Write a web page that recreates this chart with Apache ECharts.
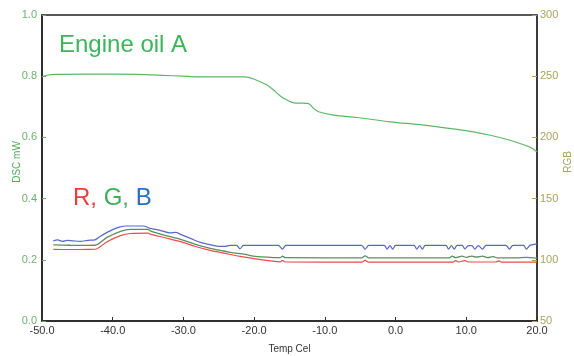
<!DOCTYPE html>
<html><head><meta charset="utf-8">
<script src="https://cdn.jsdelivr.net/npm/echarts@6/dist/echarts.min.js"></script>
<style>html,body{margin:0;padding:0;background:#fff}#c{width:574px;height:356px}</style>
</head><body><div id="c"></div>
<script>
// Temperature ticks (x axis)
const xTicks = [-50, -40, -30, -20, -10, 0, 10, 20];
// DSC curve: [temp (°C), DSC (mW)]
const dscOil = [
  [-50,0.798],[-49.3,0.803],[-48.1,0.806],[-44,0.807],[-40,0.807],[-36.6,0.806],
  [-33,0.803],[-30,0.800],[-28.1,0.798],[-25,0.798],[-21.25,0.798],[-20.07,0.791],
  [-18.18,0.771],[-17.25,0.755],[-16.3,0.735],[-15.35,0.722],[-14.4,0.713],
  [-12.5,0.711],[-12.15,0.708],[-11.6,0.695],[-10.9,0.684],[-8.77,0.673],
  [-5.5,0.665],[-0.74,0.651],[3.97,0.640],[8.7,0.626],[11.0,0.618],[13.4,0.607],
  [15.8,0.593],[17.6,0.580],[19.1,0.567],[20,0.553]
];
// RGB curves: [temp (°C), RGB value]
const blueB = [
  [-48.4,115.5],[-47.8,116.3],[-47.1,115.1],[-46.4,115.9],[-45.6,115.5],[-44.6,115.1],
  [-43.5,115.9],[-42.5,116.3],[-41.8,119.1],[-40.8,122.4],[-39.6,125.7],[-38.9,126.9],
  [-38.2,127.6],[-35.7,127.6],[-34.7,125.7],[-33.3,124.1],[-31.9,122.0],[-31.1,122.4],
  [-30.4,120.8],[-29.0,117.5],[-27.6,114.2],[-25.8,111.8],[-25.0,111.0],[-24.1,111.0],
  [-23.4,111.8],[-22.5,111.8],[-22.0,109.0],[-21.5,111.8],[-16.6,111.8],[-16.0,108.8],
  [-15.5,111.8],[-4.8,111.8],[-4.3,108.6],[-3.8,111.8],[-1.6,111.8],[-1.2,108.8],
  [-0.8,111.6],[-0.4,108.8],[0.0,111.8],[2.6,111.8],[3.0,108.8],[3.4,111.6],[3.8,108.8],
  [4.2,111.8],[7.1,111.8],[7.5,108.8],[7.9,111.6],[8.3,108.8],[8.7,111.8],[9.4,111.8],
  [9.8,108.8],[10.3,111.6],[10.8,111.6],[11.2,108.8],[11.7,111.6],[12.3,108.8],[12.8,111.8],
  [15.6,111.8],[16.1,108.8],[16.6,111.8],[18.1,111.8],[18.5,108.8],[19.0,111.8],[20,113.0]
];
const greenG = [
  [-48.4,112.2],[-46,111.9],[-43.5,111.8],[-42.5,111.9],[-40.8,118.3],[-38.9,123.3],
  [-37.5,124.9],[-35.0,124.9],[-34.7,123.7],[-32.6,120.0],[-30.4,116.7],[-28.3,112.6],
  [-26.2,109.3],[-24.8,107.7],[-23.4,106.1],[-21.3,104.4],[-19.8,102.8],[-17.7,102.0],
  [-16.3,101.7],[-16.0,103.0],[-15.6,101.7],[-4.8,101.6],[-4.3,103.2],[-3.8,101.6],
  [7.6,101.6],[8.0,103.0],[8.5,101.8],[9.4,103.0],[10.0,102.0],[10.8,103.0],[11.4,102.2],
  [12.3,103.0],[13.0,101.8],[13.8,102.6],[14.4,101.6],[17.0,101.5],[18.5,102.0],[20,101.2]
];
const redR = [
  [-48.4,108.5],[-46,108.4],[-43.5,108.5],[-42.5,108.6],[-40.8,114.8],[-38.9,119.8],
  [-37.5,121.5],[-35.0,121.8],[-34.7,121.0],[-32.6,118.0],[-30.4,114.8],[-28.3,110.9],
  [-26.2,107.7],[-24.1,105.2],[-22.0,102.8],[-19.8,100.7],[-17.7,99.1],[-16.3,98.3],
  [-16.0,99.6],[-15.6,98.2],[-4.8,98.1],[-4.3,99.6],[-3.8,98.1],[8.1,98.1],[8.5,99.4],
  [8.9,98.2],[9.8,99.4],[10.3,98.2],[14.2,98.2],[14.6,99.2],[15.0,98.1],[20,98.1]
];

const chart = echarts.init(document.getElementById('c'), null, {renderer:'canvas'});
const FONT = '"Liberation Sans", Arial, sans-serif';
chart.setOption({
  animation:false,
  backgroundColor:'#fff',
  grid:{left:42, right:37, top:15, bottom:35, show:true, borderColor:'#222', borderWidth:1.5,
        containLabel:false, outerBoundsMode:'none'},
  graphic:[
    {type:'text', left:59, top:33, style:{text:'Engine oil A', font:'24px '+FONT, fill:'#3cb45a'}},
    {type:'text', left:73, top:186, style:{
      text:'{r|R}{r|, }{g|G}{g|, }{b|B}', font:'24px '+FONT,
      rich:{r:{fill:'#ee3b3b', fontSize:24, fontFamily:FONT},
            g:{fill:'#3cae5a', fontSize:24, fontFamily:FONT},
            b:{fill:'#2c6fc0', fontSize:24, fontFamily:FONT}}}}
  ],
  xAxis:{
    type:'value', min:-50, max:20, interval:10,
    name:'Temp Cel', nameLocation:'middle', nameGap:23, nameMoveOverlap:false,
    nameTextStyle:{fontFamily:FONT, fontSize:10, color:'#333'},
    axisLine:{show:true, onZero:false, lineStyle:{color:'#222', width:1.5}},
    axisTick:{show:true, inside:true, length:4, lineStyle:{color:'#333'}},
    axisLabel:{formatter:v=>v.toFixed(1), fontFamily:FONT, fontSize:11, color:'#333', margin:4},
    splitLine:{show:false}
  },
  yAxis:[
    {type:'value', min:0, max:1, interval:0.2, position:'left',
     name:'DSC mW', nameLocation:'middle', nameGap:20, nameRotate:90, nameMoveOverlap:false,
     nameTextStyle:{fontFamily:FONT, fontSize:10, color:'#4faa5a', padding:[0,0,0,12]},
     axisLine:{show:true, onZero:false, lineStyle:{color:'#222', width:1.5}},
     axisTick:{show:true, inside:true, length:4, lineStyle:{color:'#6aaa6a'}},
     axisLabel:{formatter:v=>v.toFixed(1), fontFamily:FONT, fontSize:11, color:'#6db36d', margin:5},
     splitLine:{show:false}},
    {type:'value', min:50, max:300, interval:50, position:'right',
     name:'RGB', nameLocation:'middle', nameGap:26, nameRotate:90, nameMoveOverlap:false,
     nameTextStyle:{fontFamily:FONT, fontSize:10, color:'#a3a35a', padding:[0,0,0,12]},
     axisLine:{show:true, onZero:false, lineStyle:{color:'#333', width:1.5}},
     axisTick:{show:true, inside:true, length:5, lineStyle:{color:'#a3a35a'}},
     axisLabel:{fontFamily:FONT, fontSize:11, color:'#a8a45c', margin:3},
     splitLine:{show:false}}
  ],
  series:[
    {type:'line', name:'Engine oil A', data:dscOil, yAxisIndex:0, showSymbol:false, smooth:0.3,
     lineStyle:{color:'#5cb866', width:1.2}},
    {type:'line', name:'B', data:blueB, yAxisIndex:1, showSymbol:false, smooth:0.3,
     lineStyle:{color:'#5a68c4', width:1.2}},
    {type:'line', name:'G', data:greenG, yAxisIndex:1, showSymbol:false, smooth:0.3,
     lineStyle:{color:'#5a8f60', width:1.3}},
    {type:'line', name:'R', data:redR, yAxisIndex:1, showSymbol:false, smooth:0.3,
     lineStyle:{color:'#f04a4a', width:1.2}}
  ]
});
</script></body></html>
